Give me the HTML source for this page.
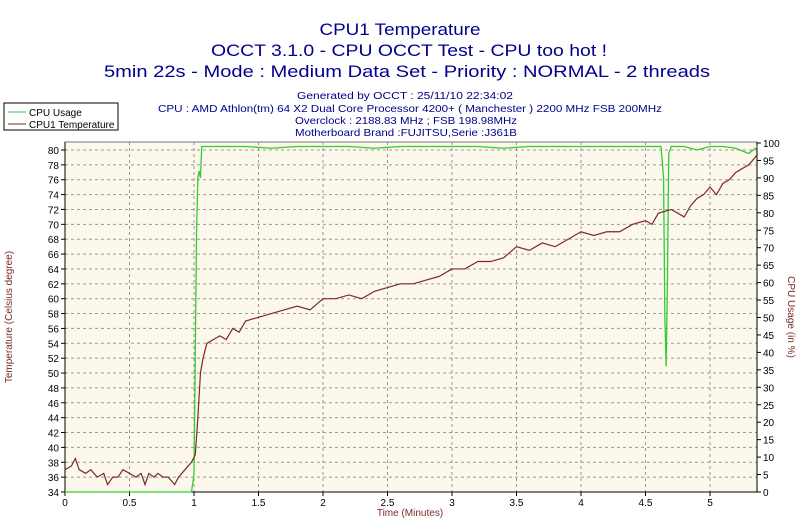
<!DOCTYPE html>
<html><head><meta charset="utf-8"><style>
body{margin:0;background:#fff;}
svg{display:block;font-family:"Liberation Sans",sans-serif;}
</style></head><body>
<svg id="chart" width="800" height="523" viewBox="0 0 800 523">
<g fill="#00008b" text-anchor="middle">
<text x="400" y="35" font-size="17" textLength="161" lengthAdjust="spacingAndGlyphs">CPU1 Temperature</text>
<text x="409" y="56" font-size="17" textLength="396" lengthAdjust="spacingAndGlyphs">OCCT 3.1.0 - CPU OCCT Test - CPU too hot !</text>
<text x="407" y="77" font-size="17" textLength="606" lengthAdjust="spacingAndGlyphs">5min 22s - Mode : Medium Data Set - Priority : NORMAL - 2 threads</text>
</g>
<g fill="#00008b" text-anchor="middle" font-size="10">
<text x="405" y="99" textLength="216" lengthAdjust="spacingAndGlyphs">Generated by OCCT : 25/11/10 22:34:02</text>
<text x="410" y="112" textLength="504" lengthAdjust="spacingAndGlyphs">CPU : AMD Athlon(tm) 64 X2 Dual Core Processor 4200+ ( Manchester ) 2200 MHz FSB 200MHz</text>
<text x="406" y="124" textLength="222" lengthAdjust="spacingAndGlyphs">Overclock : 2188.83 MHz ; FSB 198.98MHz</text>
<text x="406" y="136" textLength="222" lengthAdjust="spacingAndGlyphs">Motherboard Brand :FUJITSU,Serie :J361B</text>
</g>
<g>
<rect x="4" y="103" width="114" height="27" fill="#fff" stroke="#000"/>
<line x1="8" y1="112" x2="26" y2="112" stroke="#33cc33"/>
<text x="29" y="116" font-size="10" fill="#000">CPU Usage</text>
<line x1="8" y1="124" x2="26" y2="124" stroke="#7b2a2a"/>
<text x="29" y="128" font-size="10" fill="#000">CPU1 Temperature</text>
</g>
<rect x="65" y="142" width="692" height="350" fill="#fdf8ec" stroke="#777"/>
<g id="grid"></g>
<g id="axes"></g>
<g id="series"></g>
<text x="410" y="516" font-size="10" fill="#7b2a2a" text-anchor="middle">Time (Minutes)</text>
<text transform="translate(12,317) rotate(-90)" font-size="10" fill="#7b2a2a" text-anchor="middle">Temperature (Celsius degree)</text>
<text transform="translate(788,317) rotate(90)" font-size="10" fill="#7b2a2a" text-anchor="middle">CPU Usage (in %)</text>
</svg>
<script>
const xTicks=[0,0.5,1,1.5,2,2.5,3,3.5,4,4.5,5];
const leftTicks=[34,36,38,40,42,44,46,48,50,52,54,56,58,60,62,64,66,68,70,72,74,76,78,80];
const rightTicks=[0,5,10,15,20,25,30,35,40,45,50,55,60,65,70,75,80,85,90,95,100];
const tempTime=[0,0.05,0.08,0.11,0.16,0.2,0.25,0.3,0.33,0.37,0.41,0.45,0.5,0.55,0.59,0.62,0.65,0.69,0.72,0.76,0.8,0.85,0.88,0.93,0.98,1.01,1.03,1.05,1.07,1.1,1.15,1.2,1.25,1.3,1.35,1.4,1.5,1.6,1.7,1.8,1.9,2.0,2.1,2.2,2.3,2.4,2.5,2.6,2.7,2.8,2.9,3.0,3.1,3.2,3.3,3.4,3.5,3.6,3.7,3.8,3.9,4.0,4.1,4.2,4.3,4.4,4.5,4.55,4.6,4.7,4.75,4.8,4.85,4.9,4.95,5.0,5.05,5.1,5.15,5.2,5.25,5.3,5.35,5.37];
const tempVals=[37,37.5,38.5,37,36.5,37,36,36.5,35,36,36,37,36.5,36,36.5,35,36.5,36,36.5,36,36,35,36,37,38,39,44,50,52,54,54.5,55,54.5,56,55.5,57,57.5,58,58.5,59,58.5,60,60,60.5,60,61,61.5,62,62,62.5,63,64,64,65,65,65.5,67,66.5,67.5,67,68,69,68.5,69,69,70,70.5,70,71.5,72,71.5,71,72.5,73.5,74,75,74,75.5,76,77,77.5,78,79,79.5];
const cpuTime=[0,0.98,1.0,1.01,1.02,1.03,1.04,1.05,1.06,1.07,1.2,1.4,1.6,1.8,2.0,2.2,2.4,2.6,2.8,3.0,3.2,3.4,3.6,3.8,4.0,4.2,4.4,4.62,4.64,4.65,4.66,4.67,4.68,4.7,4.8,4.9,5.0,5.1,5.2,5.3,5.37];
const cpuVals=[0,0,5,40,75,90,92,90,99,99,99,99,98.5,99,99,99,98.5,99,99,99,99,98.5,99,99,99,99,99,99,90,50,36,60,97,99,99,98,99,99,98.5,97,99];
const NS='http://www.w3.org/2000/svg';
const X0=65,X1=757,Y0=492,Y1=142;
const xs=t=>X0+t*129;
const yl=v=>492-(v-34)*7.435;
const yr=v=>492-v*3.49;
function mk(tag,attrs,parent){const e=document.createElementNS(NS,tag);for(const k in attrs)e.setAttribute(k,attrs[k]);parent.appendChild(e);return e;}
const grid=document.getElementById('grid'),axes=document.getElementById('axes'),series=document.getElementById('series');
xTicks.forEach(t=>{
  const l=mk('line',{x1:xs(t),x2:xs(t),y1:Y1,y2:Y0,stroke:'#999','stroke-dasharray':'3,3'},grid);
  
  
  const tx=mk('text',{x:xs(t),y:506,'font-size':10,'text-anchor':'middle',fill:'#000'},axes);
  tx.textContent=t;
  
  
  mk('line',{x1:xs(t),x2:xs(t),y1:Y0,y2:Y0+4,stroke:'#000'},axes);
});
leftTicks.forEach(v=>{
  const l=mk('line',{x1:X0,x2:X1,y1:yl(v),y2:yl(v),stroke:'#999','stroke-dasharray':'3,3'},grid);
  
  
  const tx=mk('text',{x:59,y:yl(v)+4,'font-size':10,'text-anchor':'end',fill:'#000'},axes);
  tx.textContent=v;
  
  
  mk('line',{x1:X0-4,x2:X0,y1:yl(v),y2:yl(v),stroke:'#000'},axes);
});
rightTicks.forEach(v=>{
  const tx=mk('text',{x:763,y:yr(v)+4,'font-size':10,fill:'#000'},axes);
  tx.textContent=v;
  
  
  mk('line',{x1:X1,x2:X1+4,y1:yr(v),y2:yr(v),stroke:'#000'},axes);
});
mk('line',{x1:X0,x2:X0,y1:Y1,y2:Y0,stroke:'#000'},axes);
mk('line',{x1:X0,x2:X1,y1:Y0,y2:Y0,stroke:'#000'},axes);
mk('line',{x1:X1,x2:X1,y1:Y1,y2:Y0,stroke:'#000'},axes);
const cp=mk('polyline',{points:cpuTime.map((t,i)=>xs(t)+','+yr(cpuVals[i])).join(' '),fill:'none',stroke:'#33cc33','stroke-width':1.3},series);


const tp=mk('polyline',{points:tempTime.map((t,i)=>xs(t)+','+yl(tempVals[i])).join(' '),fill:'none',stroke:'#7b2a2a','stroke-width':1.2},series);


</script>
</body></html>
